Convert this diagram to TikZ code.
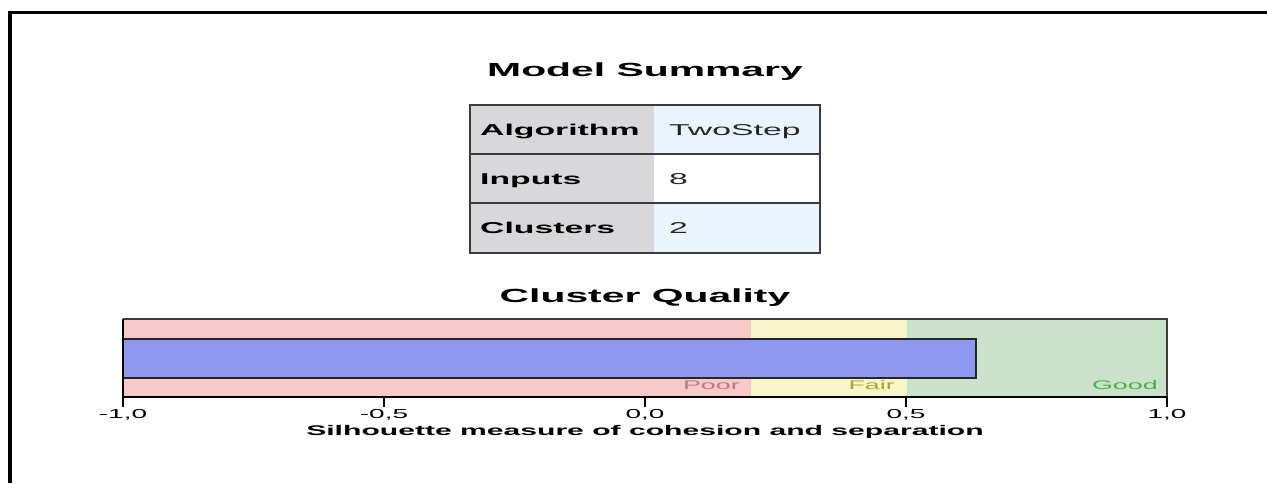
\documentclass[tikz,border=0pt]{standalone}
\usepackage{fontspec}
\newfontfamily\wf[FakeStretch=2.15]{Liberation Sans}
\definecolor{poorbg}{HTML}{F7C9C9}
\definecolor{fairbg}{HTML}{F8F6C9}
\definecolor{goodbg}{HTML}{C9E2C9}
\definecolor{barc}{HTML}{8F98EF}
\definecolor{cellgray}{HTML}{D8D8DA}
\definecolor{cellblue}{HTML}{EAF4FE}
\definecolor{gridc}{HTML}{3C3C3C}
\definecolor{poortx}{HTML}{C07A7A}
\definecolor{fairtx}{HTML}{A8A838}
\definecolor{goodtx}{HTML}{4CAF4C}
\begin{document}
\begin{tikzpicture}[x=1pt,y=-1pt,
  title/.style={font=\wf\fontsize{19}{22}\selectfont\bfseries, anchor=base, inner sep=0pt},
  lab/.style={font=\wf\fontsize{15.7}{18}\selectfont\bfseries, anchor=base west, inner sep=0pt},
  val/.style={font=\wf\fontsize{15.7}{18}\selectfont, anchor=base west, inner sep=0pt, text=black!85},
  tick/.style={font=\wf\fontsize{13}{15}\selectfont, anchor=base, inner sep=0pt},
  zone/.style={font=\wf\fontsize{12.5}{14}\selectfont, anchor=base east, inner sep=0pt},
  frameline/.style={line width=3.5pt, black},
  gridline/.style={line width=2pt, gridc},
  axisline/.style={line width=2pt, black}]
\useasboundingbox (0,0) rectangle (1267,483);
% outer frame
\draw[frameline] (1267,12.5) -- (9.75,12.5) -- (9.75,483);
% title
\node[title] (t1) at (645,76.5) {Model Summary};
% table cells
\fill[cellgray] (470,105) rectangle (654,253);
\fill[cellblue] (654,105) rectangle (820,154);
\fill[white] (654,154) rectangle (820,203);
\fill[cellblue] (654,203) rectangle (820,253);
\draw[gridline] (470,105) rectangle (820,253);
\draw[gridline] (470,154) -- (820,154);
\draw[gridline] (470,203) -- (820,203);
\node[lab] (l1) at (480,135) {Algorithm};
\node[lab] (l2) at (480,184) {Inputs};
\node[lab] (l3) at (480,233.5) {Clusters};
\node[val] (v1) at (669,135) {TwoStep};
\node[val] (v2) at (669,184) {8};
\node[val] (v3) at (669,233.5) {2};
% cluster quality
\node[title] (t2) at (645,302) {Cluster Quality};
\fill[poorbg] (123,319) rectangle (751,397);
\fill[fairbg] (751,319) rectangle (907,397);
\fill[goodbg] (907,319) rectangle (1167,397);
\node[zone, text=poortx] (zp) at (740,389) {Poor};
\node[zone, text=fairtx] (zf) at (895,389) {Fair};
\node[zone, text=goodtx] (zg) at (1158,389) {Good};
\draw[line width=1.5pt, draw=black!85, fill=barc] (123,339) rectangle (976,378);
\draw[line width=1.5pt, gridc] (123,319) -- (1167,319) -- (1167,397);
\draw[axisline] (123,319) -- (123,407);
\draw[axisline] (123,397) -- (1167,397);
\foreach \xx/\tt [count=\i] in {123/{-1,0},384/{-0,5},645/{0,0},906/{0,5},1167/{1,0}}{
  \draw[axisline] (\xx,397) -- (\xx,407);
  \node[tick] (k\i) at (\xx,418.5) {\tt};
}
\node[font=\wf\fontsize{14}{16}\selectfont\bfseries, anchor=base, inner sep=0pt] (ax) at (645,435) {Silhouette measure of cohesion and separation};
\end{tikzpicture}
\end{document}
